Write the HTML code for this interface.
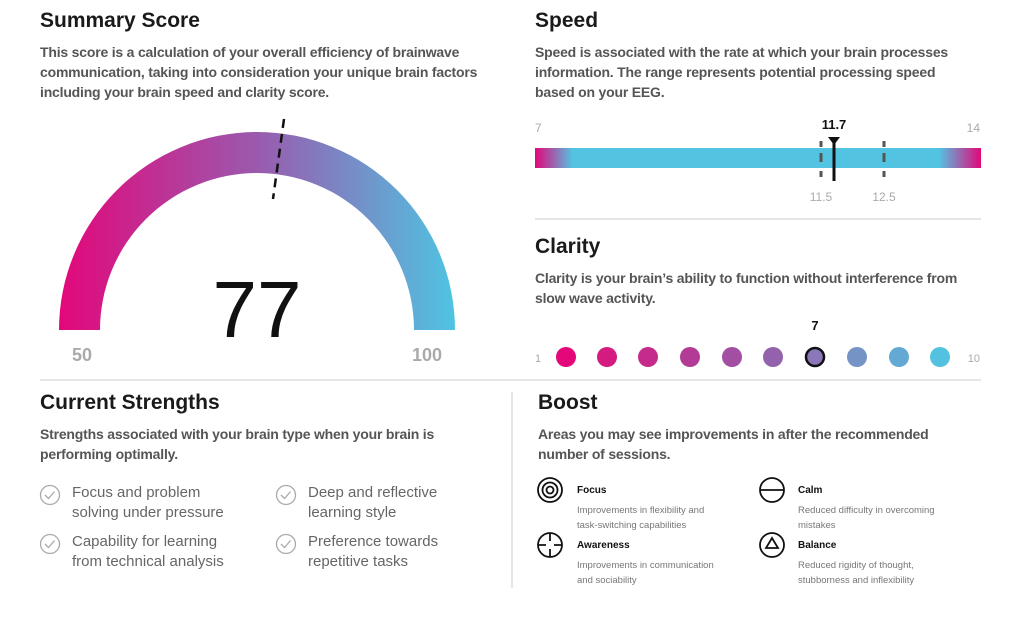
<!DOCTYPE html><html><head><style>
body{margin:0;width:1024px;height:617px;background:#fff;font-family:"Liberation Sans",sans-serif;position:relative;overflow:hidden}
.a{position:absolute;white-space:nowrap}
h2{position:absolute;margin:0;font-size:21px;font-weight:bold;color:#1a1a1a}
.p{position:absolute;font-size:14px;line-height:20px;color:#555;font-weight:bold;letter-spacing:-0.2px}
.s{position:absolute;font-size:15px;line-height:20px;color:#666}
.bt{position:absolute;font-size:10px;font-weight:bold;color:#111}
.bd{position:absolute;font-size:9.5px;line-height:15px;color:#777}
</style></head><body>
<h2 style="left:40px;top:9px">Summary Score</h2>
<div class="p" style="left:40px;top:42px;width:440px">This score is a calculation of your overall efficiency of brainwave communication, taking into consideration your unique brain factors including your brain speed and clarity score.</div>
<svg class="a" style="left:0;top:0" width="520" height="380">
<defs><linearGradient id="g" x1="59" y1="0" x2="455" y2="0" gradientUnits="userSpaceOnUse">
<stop offset="0" stop-color="#e3077a"/><stop offset="0.5" stop-color="#9a5aae"/><stop offset="1" stop-color="#4fc4e2"/></linearGradient></defs>
<path d="M59 330 A198 198 0 0 1 455 330 L414 330 A157 157 0 0 0 100 330 Z" fill="url(#g)"/>
<line x1="284" y1="119" x2="273" y2="199" stroke="#111" stroke-width="2.5" stroke-dasharray="9,6"/>
<text x="257" y="337" font-size="80" text-anchor="middle" fill="#111" font-family="Liberation Sans">77</text>
<text x="82" y="361" font-size="18" text-anchor="middle" fill="#aaa" font-weight="bold" font-family="Liberation Sans">50</text>
<text x="427" y="361" font-size="18" text-anchor="middle" fill="#aaa" font-weight="bold" font-family="Liberation Sans">100</text>
</svg>
<h2 style="left:535px;top:9px">Speed</h2>
<div class="p" style="left:535px;top:42px;width:425px;white-space:normal">Speed is associated with the rate at which your brain processes information. The range represents potential processing speed based on your EEG.</div>
<svg class="a" style="left:530px;top:110px" width="460" height="110">
<defs><linearGradient id="sb" x1="0" x2="1" y1="0" y2="0">
<stop offset="0" stop-color="#e3077a"/><stop offset="0.085" stop-color="#52c4e2"/><stop offset="0.905" stop-color="#52c4e2"/><stop offset="1" stop-color="#e3077a"/></linearGradient></defs>
<rect x="5" y="38" width="446" height="20" fill="url(#sb)"/>
<g stroke="#555" stroke-width="3"><path d="M291 31v6M291 43v9M291 61v6M354 31v6M354 43v9M354 61v6"/></g>
<line x1="304" y1="28" x2="304" y2="71" stroke="#111" stroke-width="3"/>
<polygon points="298,27 310,27 304,35" fill="#111"/>
<text x="304" y="19" font-size="13" font-weight="bold" text-anchor="middle" fill="#111">11.7</text>
<text x="5" y="22" font-size="12" fill="#aaa">7</text>
<text x="450" y="22" font-size="12" fill="#aaa" text-anchor="end">14</text>
<text x="291" y="91" font-size="12" fill="#aaa" text-anchor="middle">11.5</text>
<text x="354" y="91" font-size="12" fill="#aaa" text-anchor="middle">12.5</text>
</svg>
<div class="a" style="left:535px;top:218px;width:446px;height:2px;background:#e6e6e6"></div>
<h2 style="left:535px;top:235px">Clarity</h2>
<div class="p" style="left:535px;top:268px;width:450px">Clarity is your brain’s ability to function without interference from slow wave activity.</div>
<svg class="a" style="left:530px;top:310px" width="460" height="65">
<text x="285" y="20" font-size="13" font-weight="bold" text-anchor="middle" fill="#111">7</text>
<text x="5" y="52" font-size="11" fill="#aaa">1</text>
<text x="450" y="52" font-size="11" fill="#aaa" text-anchor="end">10</text>
<circle cx="36" cy="47" r="10" fill="#e3077a"/><circle cx="77" cy="47" r="10" fill="#d41b80"/>
<circle cx="118" cy="47" r="10" fill="#c52b8a"/><circle cx="160" cy="47" r="10" fill="#b23c95"/>
<circle cx="202" cy="47" r="10" fill="#a24ea3"/><circle cx="243" cy="47" r="10" fill="#9462ad"/>
<circle cx="285" cy="47" r="9" fill="#8a78ba" stroke="#111" stroke-width="2.5"/><circle cx="327" cy="47" r="10" fill="#7693c6"/>
<circle cx="369" cy="47" r="10" fill="#64a9d4"/><circle cx="410" cy="47" r="10" fill="#52c2e0"/>
</svg>
<div class="a" style="left:40px;top:379px;width:941px;height:2px;background:#e6e6e6"></div>
<div class="a" style="left:511px;top:392px;width:2px;height:196px;background:#e6e6e6"></div>
<h2 style="left:40px;top:391px">Current Strengths</h2>
<div class="p" style="left:40px;top:424px;width:430px">Strengths associated with your brain type when your brain is performing optimally.</div>
<svg class="a" style="left:38px;top:484px" width="270" height="80" fill="none" stroke="#aaa" stroke-width="1.3">
<circle cx="12" cy="11" r="9.5"/><path d="M7 11l3.5 3.5 6-7"/>
<circle cx="12" cy="60" r="9.5"/><path d="M7 60l3.5 3.5 6-7"/>
<circle cx="248" cy="11" r="9.5"/><path d="M243 11l3.5 3.5 6-7"/>
<circle cx="248" cy="60" r="9.5"/><path d="M243 60l3.5 3.5 6-7"/>
</svg>
<div class="s" style="left:72px;top:483px">Focus and problem<br>solving under pressure</div>
<div class="s" style="left:72px;top:532px">Capability for learning<br>from technical analysis</div>
<div class="s" style="left:308px;top:483px">Deep and reflective<br>learning style</div>
<div class="s" style="left:308px;top:532px">Preference towards<br>repetitive tasks</div>
<h2 style="left:538px;top:391px">Boost</h2>
<div class="p" style="left:538px;top:424px;width:430px">Areas you may see improvements in after the recommended number of sessions.</div>
<svg class="a" style="left:535px;top:476px" width="260" height="90" fill="none" stroke="#111" stroke-width="1.8">
<circle cx="15" cy="14" r="12"/><circle cx="15" cy="14" r="7.5"/><circle cx="15" cy="14" r="3.5"/>
<circle cx="15" cy="69" r="12"/><path d="M15 57v8M15 73v8M3 69h8M19 69h8"/>
<circle cx="237" cy="14" r="12"/><path d="M225 14h24"/>
<circle cx="237" cy="69" r="12"/><path d="M237 62l6 10h-12z"/>
</svg>
<div class="bt" style="left:577px;top:485px">Focus</div>
<div class="bd" style="left:577px;top:503px">Improvements in flexibility and<br>task-switching capabilities</div>
<div class="bt" style="left:577px;top:540px">Awareness</div>
<div class="bd" style="left:577px;top:558px">Improvements in communication<br>and sociability</div>
<div class="bt" style="left:798px;top:485px">Calm</div>
<div class="bd" style="left:798px;top:503px">Reduced difficulty in overcoming<br>mistakes</div>
<div class="bt" style="left:798px;top:540px">Balance</div>
<div class="bd" style="left:798px;top:558px">Reduced rigidity of thought,<br>stubborness and inflexibility</div>
</body></html>
